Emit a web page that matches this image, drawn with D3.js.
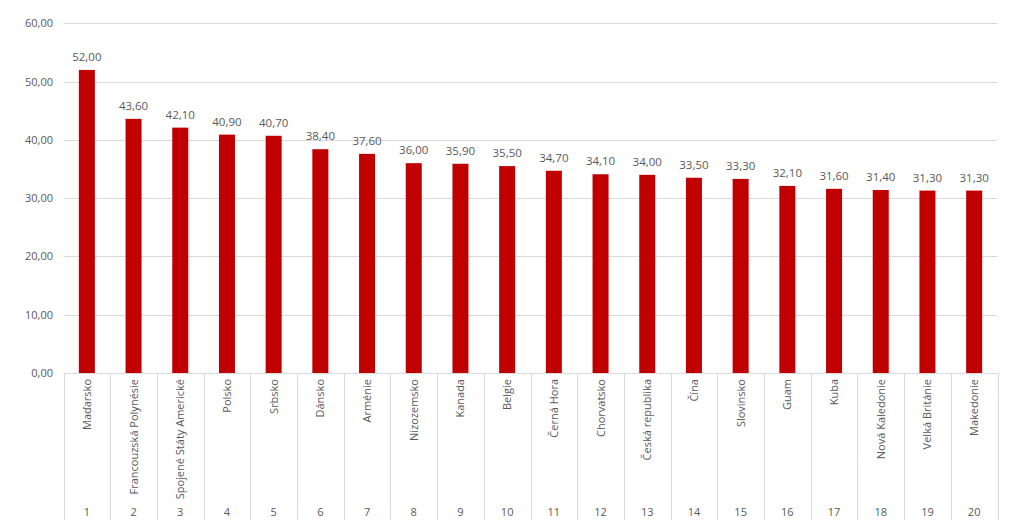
<!DOCTYPE html>
<html>
<head>
<meta charset="utf-8">
<script src="https://cdn.jsdelivr.net/npm/d3@7"></script>
<style>
  body { margin: 0; background: #fff; }
  svg { display: block; font-family: "Open Sans", sans-serif; }
</style>
</head>
<body>
<svg id="chart" width="1024" height="529"></svg>
<script>
// data
var countries = ["Maďarsko", "Francouzská Polynésie", "Spojené Státy Americké", "Polsko", "Srbsko",
  "Dánsko", "Arménie", "Nizozemsko", "Kanada", "Belgie", "Černá Hora", "Chorvatsko",
  "Česká republika", "Čína", "Slovinsko", "Guam", "Kuba", "Nová Kaledonie", "Velká Británie", "Makedonie"];
var ranks = d3.range(1, 21);
var values = [52.0, 43.6, 42.1, 40.9, 40.7, 38.4, 37.6, 36.0, 35.9, 35.5, 34.7, 34.1,
  34.0, 33.5, 33.3, 32.1, 31.6, 31.4, 31.3, 31.3];
var yTicks = [0, 10, 20, 30, 40, 50, 60];

var svg = d3.select("#chart");
var plotLeft = 63.5, plotRight = 997.5, plotTop = 23.3, plotBase = 373, plotBottom = 520;

var fmt = function(v) { return d3.format(".2f")(v).replace(".", ","); };

var x = d3.scaleBand().domain(ranks).range([plotLeft, plotRight]).paddingInner(0).paddingOuter(0);
var y = d3.scaleLinear().domain([0, 60]).range([plotBase, plotTop]);

// gridlines
svg.append("g").selectAll("line").data(yTicks).join("line")
  .attr("x1", plotLeft).attr("x2", plotRight)
  .attr("y1", d => Math.round(y(d)) + 0.5).attr("y2", d => Math.round(y(d)) + 0.5)
  .attr("stroke", "#d9d9d9").attr("stroke-width", 1);

// y tick labels
svg.append("g").selectAll("text").data(yTicks).join("text")
  .attr("x", 53).attr("y", d => y(d) + 4)
  .attr("text-anchor", "end")
  .attr("font-size", 11).attr("fill", "#595959")
  .text(fmt);

// category dividers
var edges = ranks.map(r => x(r)).concat([plotRight]);
svg.append("g").selectAll("line").data(edges).join("line")
  .attr("x1", d => Math.round(d) + 0.5).attr("x2", d => Math.round(d) + 0.5)
  .attr("y1", plotBase).attr("y2", plotBottom)
  .attr("stroke", "#d9d9d9").attr("stroke-width", 1);

// bars
var bw = 16;
svg.append("g").selectAll("rect").data(values).join("rect")
  .attr("x", (d, i) => x(ranks[i]) + x.bandwidth() / 2 - bw / 2)
  .attr("y", d => y(d))
  .attr("width", bw)
  .attr("height", d => plotBase - y(d))
  .attr("fill", "#c00000");

// value labels
svg.append("g").selectAll("text").data(values).join("text")
  .attr("x", (d, i) => x(ranks[i]) + x.bandwidth() / 2)
  .attr("y", d => y(d) - 9)
  .attr("text-anchor", "middle")
  .attr("font-size", 11.5).attr("fill", "#595959")
  .text(fmt);

// rotated country names
svg.append("g").selectAll("text").data(countries).join("text")
  .attr("transform", (d, i) => "translate(" + (x(ranks[i]) + x.bandwidth() / 2 + 4) + "," + (plotBase + 6) + ") rotate(-90)")
  .attr("text-anchor", "end")
  .attr("font-size", 11).attr("fill", "#595959")
  .text(d => d);

// rank numbers
svg.append("g").selectAll("text").data(ranks).join("text")
  .attr("x", d => x(d) + x.bandwidth() / 2)
  .attr("y", 516)
  .attr("text-anchor", "middle")
  .attr("font-size", 11).attr("fill", "#595959")
  .text(d => d);
</script>
</body>
</html>
